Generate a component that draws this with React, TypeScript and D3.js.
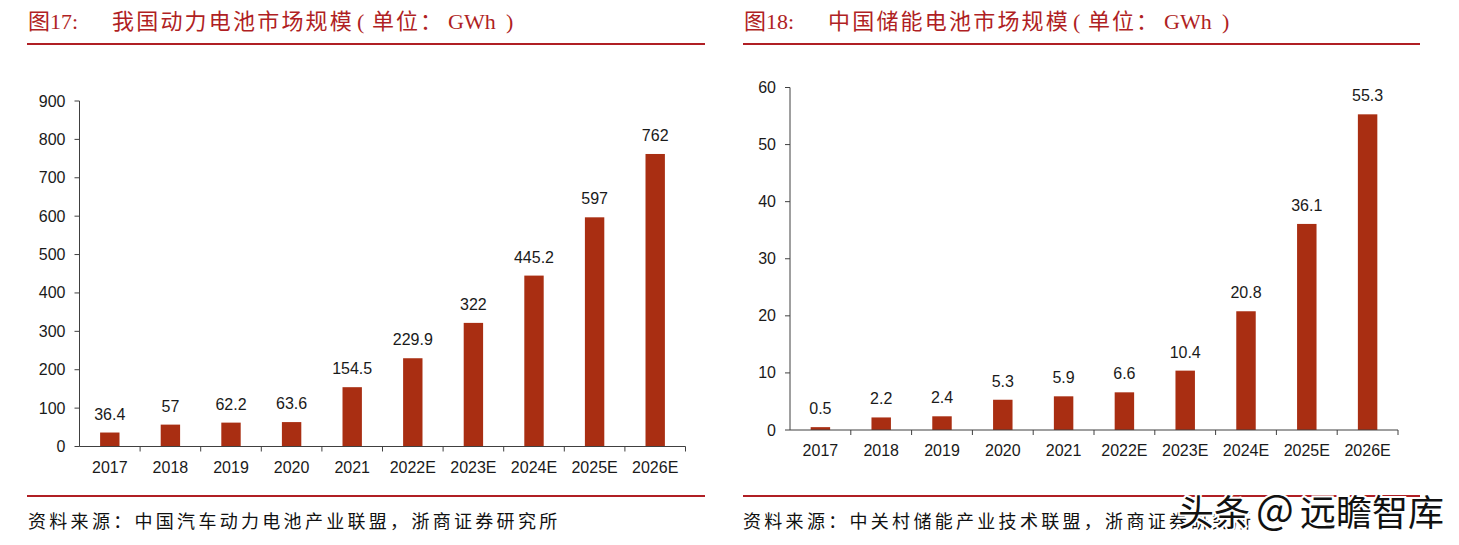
import React from "react";
import * as d3 from "d3";

const years = ["2017", "2018", "2019", "2020", "2021", "2022E", "2023E", "2024E", "2025E", "2026E"];
const powerValues = [36.4, 57, 62.2, 63.6, 154.5, 229.9, 322, 445.2, 597, 762];
const storageValues = [0.5, 2.2, 2.4, 5.3, 5.9, 6.6, 10.4, 20.8, 36.1, 55.3];
const powerTicks = [0, 100, 200, 300, 400, 500, 600, 700, 800, 900];
const storageTicks = [0, 10, 20, 30, 40, 50, 60];

const BAR = "#A92E12";
const RED = "#B01F24";
const AXIS = "#404040";
const INK = "#1a1a1a";
const SANS = "'Liberation Sans', Arial, sans-serif";
const CJK = "'Liberation Serif', 'Noto Sans CJK SC', serif";

type PanelProps = {
  values: number[];
  ticks: number[];
  x0: number;
  x1: number;
  yTop: number;
  yBottom: number;
  max: number;
};

function Panel({ values, ticks, x0, x1, yTop, yBottom, max }: PanelProps) {
  const x = d3.scaleBand<string>().domain(years).range([x0, x1]).padding(0);
  const y = d3.scaleLinear().domain([0, max]).range([yBottom, yTop]);
  const bw = x.bandwidth() * 0.32;
  const step = x.step();
  return (
    <g>
      {values.map((v, i) => {
        const cx = (x(years[i]) as number) + step / 2;
        return (
          <g key={years[i]}>
            <rect x={cx - bw / 2} y={y(v)} width={bw} height={y(0) - y(v)} fill={BAR} />
            <text x={cx} y={y(v) - 13} textAnchor="middle" fontFamily={SANS} fontSize={16} fill={INK}>
              {String(v)}
            </text>
            <text x={cx} y={yBottom + 26} textAnchor="middle" fontFamily={SANS} fontSize={16} fill={INK}>
              {years[i]}
            </text>
          </g>
        );
      })}
      <line x1={x0} x2={x0} y1={y(max)} y2={yBottom} stroke={AXIS} strokeWidth={1} />
      <line x1={x0} x2={x1} y1={yBottom} y2={yBottom} stroke={AXIS} strokeWidth={1} />
      {ticks.map((t) => (
        <g key={t}>
          <line x1={x0 - 5} x2={x0} y1={y(t)} y2={y(t)} stroke={AXIS} />
          <text x={x0 - 14} y={y(t) + 5.5} textAnchor="end" fontFamily={SANS} fontSize={16} fill={INK}>
            {t}
          </text>
        </g>
      ))}
      {years.map((c) => (
        <line key={c} x1={(x(c) as number) + step} x2={(x(c) as number) + step} y1={yBottom} y2={yBottom + 5} stroke={AXIS} />
      ))}
    </g>
  );
}

function Title({ x, num, body }: { x: number; num: string; body: string }) {
  const bodyX = x + 84;
  const end = bodyX + body.length * 24.2;
  return (
    <g fill={RED} fontFamily={CJK} fontSize={22}>
      <text x={x} y={29}>{num}</text>
      <text x={bodyX} y={29} letterSpacing={2.2}>{body}</text>
      <text x={end + 3} y={29}>(</text>
      <text x={end + 18} y={29} letterSpacing={2}>单位：</text>
      <text x={end + 94} y={29}>GWh</text>
      <text x={end + 152} y={29}>)</text>
    </g>
  );
}

export default function App() {
  return (
    <svg width={1459} height={545} style={{ position: "absolute", left: 0, top: 0, background: "#fff" }}>
      <rect width={1459} height={545} fill="#fff" />
      <Title x={28} num="图17:" body="我国动力电池市场规模" />
      <Title x={744} num="图18:" body="中国储能电池市场规模" />
      <line x1={27} x2={705} y1={44} y2={44} stroke={RED} strokeWidth={2} />
      <line x1={743} x2={1420} y1={44} y2={44} stroke={RED} strokeWidth={2} />

      <Panel values={powerValues} ticks={powerTicks} x0={79.5} x1={685.5} yTop={101} yBottom={446.5} max={900} />
      <Panel values={storageValues} ticks={storageTicks} x0={790} x1={1398} yTop={87.5} yBottom={430} max={60} />

      <line x1={27} x2={705} y1={496} y2={496} stroke={RED} strokeWidth={2} />
      <line x1={743} x2={1420} y1={496} y2={496} stroke={RED} strokeWidth={2} />
      <text x={28} y={528} fontFamily={CJK} fontSize={18} fill="#111" letterSpacing={3.3}>
        资料来源：中国汽车动力电池产业联盟，浙商证券研究所
      </text>
      <text x={743} y={528} fontFamily={CJK} fontSize={18} fill="#111" letterSpacing={3.3}>
        资料来源：中关村储能产业技术联盟，浙商证券研究所
      </text>
      <g fontFamily="'Noto Sans CJK SC', sans-serif" fill="#111" stroke="#fff" strokeWidth={4} paintOrder="stroke">
        <text x={1178} y={526} fontSize={36}>头条</text>
        <text x={1256} y={524} fontSize={40}>@</text>
        <text x={1300} y={526} fontSize={36}>远瞻智库</text>
      </g>
    </svg>
  );
}
